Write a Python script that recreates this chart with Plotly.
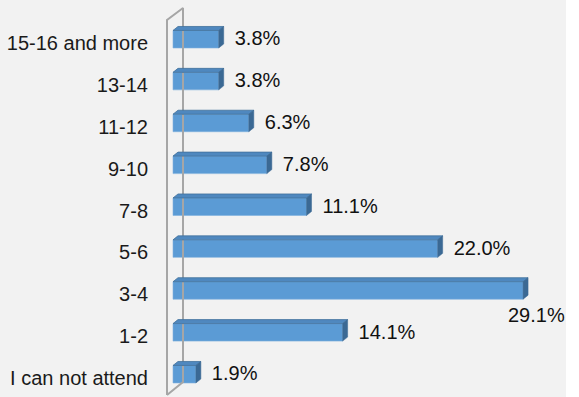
import plotly.graph_objects as go

# Survey answers, top row first
categories = ["15-16 and more", "13-14", "11-12", "9-10", "7-8", "5-6", "3-4", "1-2", "I can not attend"]
shares = [3.8, 3.8, 6.3, 7.8, 11.1, 22.0, 29.1, 14.1, 1.9]
value_labels = ["3.8%", "3.8%", "6.3%", "7.8%", "11.1%", "22.0%", "29.1%", "14.1%", "1.9%"]

W, H = 579, 397
ML, MR = 158, 13
PX_PER_UNIT_X = 12.03          # pixels per percentage point
ZERO_PX = 173                  # where 0 % sits
ROW_PX = 41.875                # category spacing
FIRST_ROW_PX = 43

x_min = -(ZERO_PX - ML) / PX_PER_UNIT_X
x_max = (W - MR - ZERO_PX) / PX_PER_UNIT_X
y_top = -FIRST_ROW_PX / ROW_PX
y_bot = (H - FIRST_ROW_PX) / ROW_PX

FONT = "Liberation Sans, Arial, sans-serif"
FONT_SIZE = 20

FRONT = "#5b9bd5"
TOP = "#4f88bf"
SIDE = "#3b6994"
EDGE = "#7fb0de"

bar_h = 0.418
bar_shift = -0.09
dx = 5 / PX_PER_UNIT_X
dy = 4 / ROW_PX

idx = list(range(len(categories)))
centers = [i + bar_shift for i in idx]

fig = go.Figure()

# 3-D wall behind the bars
wx = [-6 / PX_PER_UNIT_X, -6 / PX_PER_UNIT_X, 10 / PX_PER_UNIT_X, 10 / PX_PER_UNIT_X, -6 / PX_PER_UNIT_X]
wy = [(395 - FIRST_ROW_PX) / ROW_PX, (20 - FIRST_ROW_PX) / ROW_PX, (8 - FIRST_ROW_PX) / ROW_PX,
      (382 - FIRST_ROW_PX) / ROW_PX, (395 - FIRST_ROW_PX) / ROW_PX]
fig.add_trace(go.Scatter(x=wx, y=wy, mode="lines", line=dict(color="#a6a6a6", width=2),
                         hoverinfo="skip", showlegend=False))

# front faces
fig.add_trace(go.Bar(x=shares, y=centers, orientation="h", width=bar_h,
                     marker=dict(color=FRONT, line=dict(color=EDGE, width=0.6)),
                     hoverinfo="skip", showlegend=False))

# top and side faces
tx, ty, sx, sy = [], [], [], []
for v, c in zip(shares, centers):
    yt = c - bar_h / 2
    yb = c + bar_h / 2
    tx += [0, v, v + dx, dx, 0, None]
    ty += [yt, yt, yt - dy, yt - dy, yt, None]
    sx += [v, v + dx, v + dx, v, v, None]
    sy += [yt, yt - dy, yb - dy, yb, yt, None]
fig.add_trace(go.Scatter(x=tx, y=ty, mode="lines", fill="toself", fillcolor=TOP,
                         line=dict(color="#41719c", width=0.8), hoverinfo="skip", showlegend=False))
fig.add_trace(go.Scatter(x=sx, y=sy, mode="lines", fill="toself", fillcolor=SIDE,
                         line=dict(color=SIDE, width=0.5), hoverinfo="skip", showlegend=False))

# value labels: right of the bar, or tucked beneath it when there is no room
gap = 16 / PX_PER_UNIT_X
label_w = 58 / PX_PER_UNIT_X
lx, ly = [], []
for i, v in zip(idx, shares):
    if v + gap + label_w > x_max:
        lx.append(x_max - label_w)
        ly.append(i + 0.536)
    else:
        lx.append(v + gap)
        ly.append(i - 0.06)
fig.add_trace(go.Scatter(x=lx, y=ly, mode="text", text=value_labels, textposition="middle right",
                         textfont=dict(family=FONT, size=FONT_SIZE, color="#111111"),
                         cliponaxis=False, hoverinfo="skip", showlegend=False))

fig.update_layout(
    width=W, height=H,
    margin=dict(l=ML, r=MR, t=0, b=0, autoexpand=False),
    paper_bgcolor="#f2f2f2", plot_bgcolor="#f2f2f2",
    barmode="overlay",
    xaxis=dict(range=[x_min, x_max], visible=False, fixedrange=True),
    yaxis=dict(range=[y_bot, y_top], tickvals=idx, ticktext=categories, automargin=False,
               showgrid=False, zeroline=False, showline=False, ticks="",
               ticklabelstandoff=9,
               tickfont=dict(family=FONT, size=FONT_SIZE, color="#1a1a1a")),
    shapes=[dict(type="rect", xref="paper", yref="paper", x0=1, x1=1.2, y0=-0.1, y1=1.1,
                 fillcolor="white", line=dict(width=0), layer="below")],
)

fig.write_html("out.html")
